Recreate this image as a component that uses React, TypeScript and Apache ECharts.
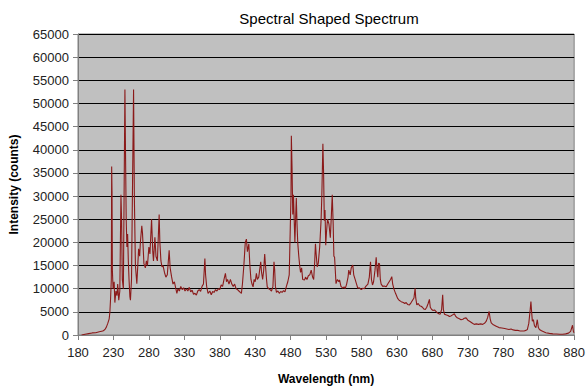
import React, { useEffect, useRef } from "react";
import * as echarts from "echarts";

const wavelengths: number[] = [
  185, 190, 195, 200, 205, 210, 215, 218, 220, 222, 224, 225, 226, 227, 227.5, 228, 228.5, 229.5, 231, 232,
  233.5, 235, 236, 237.5, 239, 240.6, 241.5, 242.5, 244, 246.2, 247, 248, 249, 250, 251, 252, 253.2, 254, 255.5, 258.4,
  259.5, 261, 263, 264, 265.5, 267, 268, 270, 271, 273, 275, 276.5, 278, 280, 281.5, 283.8, 285.5, 286.5, 288.5, 290,
  292, 294.5, 295.5, 297, 298.5, 300, 302, 304, 306, 308.6, 310, 312, 314, 316, 318, 319.5, 321, 323, 325, 327,
  329, 331, 333, 335, 337, 339, 341, 343, 345, 347, 349, 351, 353, 355, 357, 359, 360, 361.5, 363.5, 366,
  368, 370, 372, 374, 376, 378, 380, 382, 384, 386, 388, 389.5, 391, 393, 395, 397, 399, 401, 403, 405,
  407, 409, 410.5, 412, 414, 416, 417.6, 419, 421, 422.5, 424, 425.5, 427, 428.5, 430, 431.7, 433, 435, 437.8, 439,
  440.5, 442, 443.4, 444.5, 446, 447, 449, 451, 453, 455, 456.5, 457.5, 458.5, 460, 462, 464, 466, 468, 470, 472,
  474, 476, 478, 479.5, 480.5, 481, 482, 483, 484, 485, 486, 487, 488, 489, 490, 491.5, 492.7, 494, 495.5, 497,
  499.7, 501, 503, 505, 507, 509, 511, 512.5, 514, 515, 516, 517.5, 519, 521, 523, 524, 525.5, 526.5, 527.5, 528.5,
  529.5, 530.5, 532, 534, 536, 537.5, 538.7, 540, 541, 542, 543, 544, 546, 548, 549, 551, 553.7, 555.5, 557, 559,
  561, 562, 564, 565.5, 567.7, 569, 571, 573, 574.8, 577, 579.6, 582, 584, 586, 589, 591, 592.7, 594, 595.5, 597,
  599, 600.7, 602, 603, 604, 605.4, 606.5, 607.7, 610, 612, 614.8, 617, 619, 621, 622.7, 624, 626, 628, 631, 633,
  636, 639, 641, 643, 645, 647.6, 650, 652, 654, 655.6, 656.5, 658, 660, 662, 664, 666, 668, 670, 672, 674,
  675.8, 677, 679, 681, 683, 685, 687, 689, 691, 693, 694.5, 695.5, 697, 700, 702, 704, 706, 708, 711, 713,
  715, 718, 720.4, 723, 725, 727.5, 730, 733, 736, 739, 742, 745, 748, 751, 754, 756, 758, 760, 761.5, 763,
  766, 770, 774, 778, 782, 785, 788, 791, 794, 797, 800, 803, 807, 810, 812, 814, 816, 818, 819, 820,
  821, 822.5, 824, 826, 828, 829.5, 831, 834, 837, 840, 845, 850, 855, 860, 864, 868, 872, 875, 877.7, 879,
  880,
];

const intensities: number[] = [
  0, 150, 300, 450, 500, 700, 850, 1200, 1700, 2500, 3500, 5000, 8000, 12000, 36400, 31000, 14000, 10000, 11500, 7000,
  9500, 8500, 11000, 7500, 9500, 30300, 25000, 12000, 10000, 53000, 40000, 25000, 19000, 21800, 16000, 12000, 8300, 7500, 12000, 53000,
  30000, 15000, 11100, 14000, 18600, 17000, 20000, 23600, 22000, 15400, 14500, 16000, 15000, 19000, 17500, 25000, 18000, 16000, 21100, 17000,
  16000, 26000, 20000, 16000, 14700, 15000, 13500, 12500, 13000, 18300, 14500, 12600, 11000, 11500, 10000, 9000, 10000, 9500, 10500, 9800,
  10200, 9500, 10000, 9500, 10300, 9300, 9700, 8800, 9000, 8600, 9500, 9800, 9400, 10500, 11000, 16500, 13000, 10500, 9000, 9500,
  8700, 9400, 9200, 9800, 9500, 10000, 9800, 10800, 10500, 12000, 13300, 11500, 12000, 11000, 12000, 11000, 10500, 11000, 10000, 9800,
  9500, 9200, 9000, 11000, 15000, 20000, 20700, 18000, 19700, 15000, 12000, 11000, 10400, 12000, 11500, 13300, 12000, 12500, 15800, 13500,
  12000, 14000, 17500, 15000, 12000, 10400, 10000, 9800, 9500, 10500, 15800, 14000, 10500, 9200, 9500, 9000, 9400, 9200, 9600, 9300,
  10500, 11500, 13000, 23200, 30000, 43000, 36000, 26000, 30300, 25000, 20000, 25000, 29600, 24000, 20000, 17000, 15100, 13500, 14500, 12000,
  11900, 12500, 12000, 12800, 13000, 14000, 12500, 12000, 16000, 19700, 17500, 14700, 15500, 19000, 25000, 30000, 41300, 35000, 24700, 27000,
  19400, 22000, 25000, 24000, 21000, 26000, 30300, 24000, 17000, 16800, 14000, 11100, 12000, 11500, 11900, 10500, 10100, 10400, 10000, 11000,
  12500, 14000, 13000, 14500, 15100, 13000, 12000, 11000, 10100, 10200, 9800, 10100, 10000, 10500, 11000, 12500, 15800, 12000, 10800, 11500,
  14000, 16800, 14000, 12500, 15500, 15400, 12000, 11000, 10500, 10600, 10400, 11000, 11500, 12000, 12600, 11000, 9800, 9000, 7900, 7500,
  7200, 7000, 6800, 7000, 6600, 6500, 7000, 7500, 8000, 10100, 8000, 6500, 6800, 6300, 6200, 6000, 5600, 5500, 6000, 6800,
  7700, 6000, 5500, 5300, 5400, 5100, 4800, 4600, 4500, 5500, 8700, 5500, 4500, 4300, 4200, 4000, 4100, 4300, 4600, 4000,
  3700, 3500, 3300, 3400, 3600, 3700, 3200, 2900, 2600, 2300, 2400, 2300, 2400, 2300, 2600, 3000, 3800, 5100, 3500, 2600,
  2200, 1900, 1600, 1500, 1400, 1300, 1200, 1300, 1100, 1000, 1000, 900, 850, 900, 1000, 1200, 2500, 5500, 7200, 5000,
  3000, 3300, 2000, 1600, 3300, 1600, 1200, 900, 700, 500, 350, 250, 200, 150, 150, 250, 400, 800, 2100, 700,
  500,
];

const xMin = 180;
const xMax = 880;
const xStep = 50;
const yMin = 0;
const yMax = 65000;
const yStep = 5000;

const chartTitle = "Spectral Shaped Spectrum";
const xName = "Wavelength (nm)";
const yName = "Intensity (counts)";

export default function App() {
  const ref = useRef<HTMLDivElement>(null);
  useEffect(() => {
    if (!ref.current) return;
    const chart = echarts.init(ref.current, null, { renderer: "svg" });
    const font = "Arial, 'Liberation Sans', sans-serif";
    chart.setOption({
      animation: false,
      backgroundColor: "#ffffff",
      title: {
        text: chartTitle,
        left: 324,
        top: 6,
        textAlign: "center",
        textStyle: { fontFamily: font, fontSize: 15, fontWeight: "normal", color: "#000" },
      },
      grid: {
        left: 78,
        right: 13,
        top: 34,
        bottom: 51,
        show: true,
        backgroundColor: "#c0c0c0",
        borderColor: "#808080",
        borderWidth: 1,
      },
      xAxis: {
        type: "value",
        min: xMin,
        max: xMax,
        interval: xStep,
        name: xName,
        nameLocation: "middle",
        nameGap: 38,
        nameTextStyle: { fontFamily: font, fontSize: 12, fontWeight: "bold", color: "#000" },
        axisLine: { show: true, lineStyle: { color: "#808080", width: 1 } },
        axisTick: { show: true, inside: false, length: 5, lineStyle: { color: "#808080" } },
        axisLabel: { fontFamily: font, fontSize: 13, color: "#222", margin: 11, formatter: (v: number) => String(v) },
        splitLine: { show: false },
      },
      yAxis: {
        type: "value",
        min: yMin,
        max: yMax,
        interval: yStep,
        name: yName,
        nameLocation: "middle",
        nameGap: 58,
        nameRotate: 90,
        nameTextStyle: { fontFamily: font, fontSize: 12, fontWeight: "bold", color: "#000" },
        axisLine: { show: true, lineStyle: { color: "#808080", width: 1 } },
        axisTick: { show: true, inside: false, length: 5, lineStyle: { color: "#808080" } },
        axisLabel: { fontFamily: font, fontSize: 13, color: "#222", margin: 9, formatter: (v: number) => String(v) },
        splitLine: { show: true, lineStyle: { color: "#000", width: 1 } },
      },
      series: [
        {
          type: "line",
          data: wavelengths.map((w, i) => [w, intensities[i]]),
          showSymbol: false,
          symbol: "none",
          lineStyle: { color: "#8b1a1a", width: 1.1 },
          silent: true,
        },
      ],
    });
    return () => chart.dispose();
  }, []);
  return (
    <div
      ref={ref}
      style={{ position: "fixed", left: 0, top: 0, width: 588, height: 390 }}
    />
  );
}
